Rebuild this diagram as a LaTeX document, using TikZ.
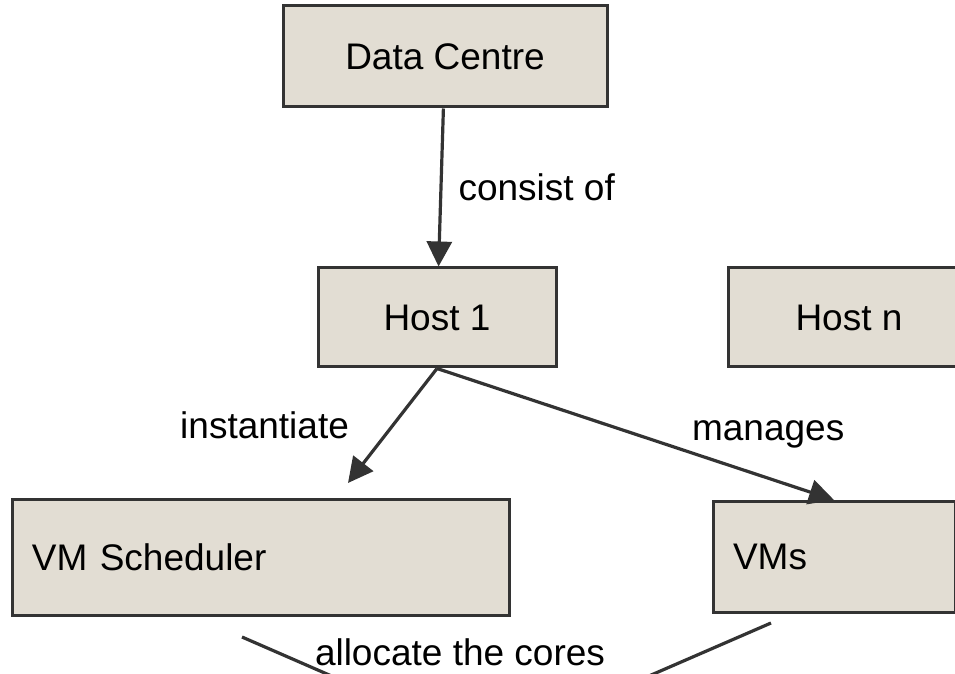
\documentclass[tikz,border=0pt]{standalone}
\usepackage{fontspec}
\setmainfont{Liberation Sans}
\usetikzlibrary{arrows.meta,positioning}
\definecolor{boxfill}{HTML}{E2DDD3}
\definecolor{edgegray}{HTML}{333333}

\begin{document}
\begin{tikzpicture}[x=0.5pt, y=-0.5pt,
  box/.style={draw=edgegray, fill=boxfill, line width=1.5pt, inner sep=0pt, font=\fontsize{18.5}{22}\selectfont},
  lbl/.style={inner sep=0pt, font=\fontsize{18.5}{22}\selectfont},
  flow/.style={-{Triangle[length=12.5pt,width=12.5pt]}, draw=edgegray, line width=1.6pt},
  tie/.style={draw=edgegray, line width=1.6pt}]
\useasboundingbox (0,0) rectangle (955,674);
\clip (0,0) rectangle (955,674);
\node[box, minimum width=162pt, minimum height=50.5pt] (dc) at (445,56.5) {Data Centre};
\node[box, below=79pt of dc, xshift=-4pt, minimum width=119pt, minimum height=49.5pt] (h1) {Host 1};
\node[box, right=84.5pt of h1, minimum width=121pt, minimum height=49.5pt] (hn) {Host n};
\node[box, text width=228.5pt, inner xsep=10pt, align=left, minimum height=58pt] (sched) at (260.5,557) {VM Scheduler};
\node[box, right=100.5pt of sched, text width=101pt, inner xsep=10pt, align=left, minimum height=55.5pt] (vms) {VMs};
\node[lbl] (alloc) at (460,652) {allocate the cores};
% loose ends
\coordinate (inst-end) at (348,483);
\coordinate (sched-foot) at (242,637);
\coordinate (vms-foot) at (771,623);
\coordinate (cores) at (490,745);
\draw[flow] (dc) -- node[lbl, right=8pt] {consist of} (h1);
\draw[flow] (h1.south) -- node[lbl, left=21pt] {instantiate} (inst-end);
\draw[flow] (h1.south) -- node[lbl, right=27.5pt] {manages} (vms.north);
\draw[tie] (sched-foot) -- (cores);
\draw[tie] (vms-foot) -- (cores);
\end{tikzpicture}
\end{document}
